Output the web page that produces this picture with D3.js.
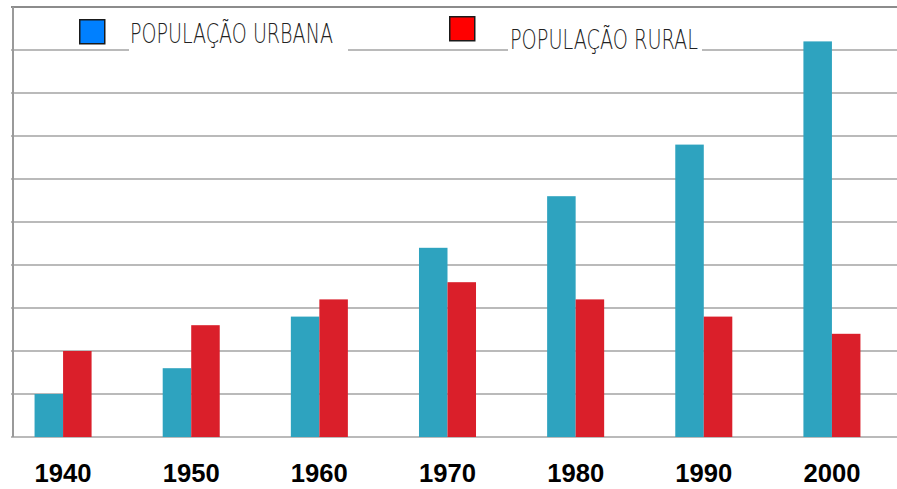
<!DOCTYPE html>
<html>
<head>
<meta charset="utf-8">
<script src="https://cdn.jsdelivr.net/npm/d3@7"></script>
<style>
  html, body { margin: 0; padding: 0; background: #fff; }
  svg { display: block; }
</style>
</head>
<body>
<div id="chart"></div>
<script>
const width = 897;
const height = 489;

// data (in gridline units)
const years = ["1940", "1950", "1960", "1970", "1980", "1990", "2000"];
const urbana = [1.0, 1.6, 2.8, 4.4, 5.6, 6.8, 9.2];
const rural = [2.0, 2.6, 3.2, 3.6, 3.2, 2.8, 2.4];
const seriesNames = ["POPULAÇÃO URBANA", "POPULAÇÃO RURAL"];

const barColors = ["#2ea3bf", "#da1f2a"];
const legendColors = ["#0080ff", "#ff0000"];

const svg = d3.select("#chart")
    .append("svg")
    .attr("width", width)
    .attr("height", height);

const plotTop = 7, plotBottom = 437, plotLeft = 13;

const y = d3.scaleLinear().domain([0, 10]).range([plotBottom, plotTop]);
const x = d3.scaleBand().domain(years).range([-1, 896])
    .paddingInner(0.555).paddingOuter(0.2775);
const xs = d3.scaleBand().domain([0, 1]).range([0, x.bandwidth()]);

// gridlines
svg.append("g")
    .selectAll("line")
    .data(y.ticks(10).filter(d => d > 0 && d < 10))
    .enter()
    .append("line")
    .attr("x1", 11)
    .attr("x2", width)
    .attr("y1", d => y(d))
    .attr("y2", d => y(d))
    .attr("stroke", "#a3a3a3")
    .attr("stroke-width", 1.5);

// top border
svg.append("line")
    .attr("x1", 11).attr("x2", width)
    .attr("y1", y(10)).attr("y2", y(10))
    .attr("stroke", "#8c8c8c").attr("stroke-width", 2.2);

// baseline
svg.append("line")
    .attr("x1", 11).attr("x2", width)
    .attr("y1", y(0)).attr("y2", y(0))
    .attr("stroke", "#a3a3a3").attr("stroke-width", 1.5);

// left axis
svg.append("line")
    .attr("x1", plotLeft).attr("x2", plotLeft)
    .attr("y1", plotTop).attr("y2", plotBottom)
    .attr("stroke", "#9a9a9a").attr("stroke-width", 2);

// bars
const groups = svg.append("g")
    .selectAll("g")
    .data(years.map((yr, i) => ({ yr, vals: [urbana[i], rural[i]] })))
    .enter()
    .append("g")
    .attr("transform", d => `translate(${x(d.yr)},0)`);

groups.selectAll("rect")
    .data(d => d.vals)
    .enter()
    .append("rect")
    .attr("x", (d, i) => xs(i))
    .attr("width", xs.bandwidth())
    .attr("y", d => y(d))
    .attr("height", d => y(0) - y(d))
    .attr("fill", (d, i) => barColors[i]);

// year labels
svg.append("g")
    .selectAll("text")
    .data(years)
    .enter()
    .append("text")
    .attr("x", d => x(d) + x.bandwidth() / 2)
    .attr("y", 482)
    .attr("text-anchor", "middle")
    .attr("textLength", 57)
    .attr("lengthAdjust", "spacingAndGlyphs")
    .style("font-family", "Liberation Sans, Arial, sans-serif")
    .style("font-weight", "bold")
    .style("font-size", "26px")
    .attr("fill", "#000")
    .text(d => d);

// legend
const legend = [
    { sq: [79, 19], txt: [130, 43], len: 203, gap: [129, 348] },
    { sq: [449, 16], txt: [510, 49], len: 188, gap: [508, 702] }
];

legend.forEach((l, i) => {
    svg.append("rect")
        .attr("x", l.gap[0])
        .attr("y", y(9) - 3)
        .attr("width", l.gap[1] - l.gap[0])
        .attr("height", 6)
        .attr("fill", "#fff");

    svg.append("rect")
        .attr("x", l.sq[0] + 0.75)
        .attr("y", l.sq[1] + 0.75)
        .attr("width", 25)
        .attr("height", 24)
        .attr("fill", legendColors[i])
        .attr("stroke", "#1a1a1a")
        .attr("stroke-width", 1.5);

    svg.append("text")
        .attr("x", l.txt[0])
        .attr("y", l.txt[1])
        .attr("textLength", l.len)
        .attr("lengthAdjust", "spacingAndGlyphs")
        .style("font-family", "DejaVu Sans, sans-serif")
        .style("font-weight", "200")
        .style("font-size", "26px")
        .attr("fill", "#222")
        .text(seriesNames[i]);
});
</script>
</body>
</html>
